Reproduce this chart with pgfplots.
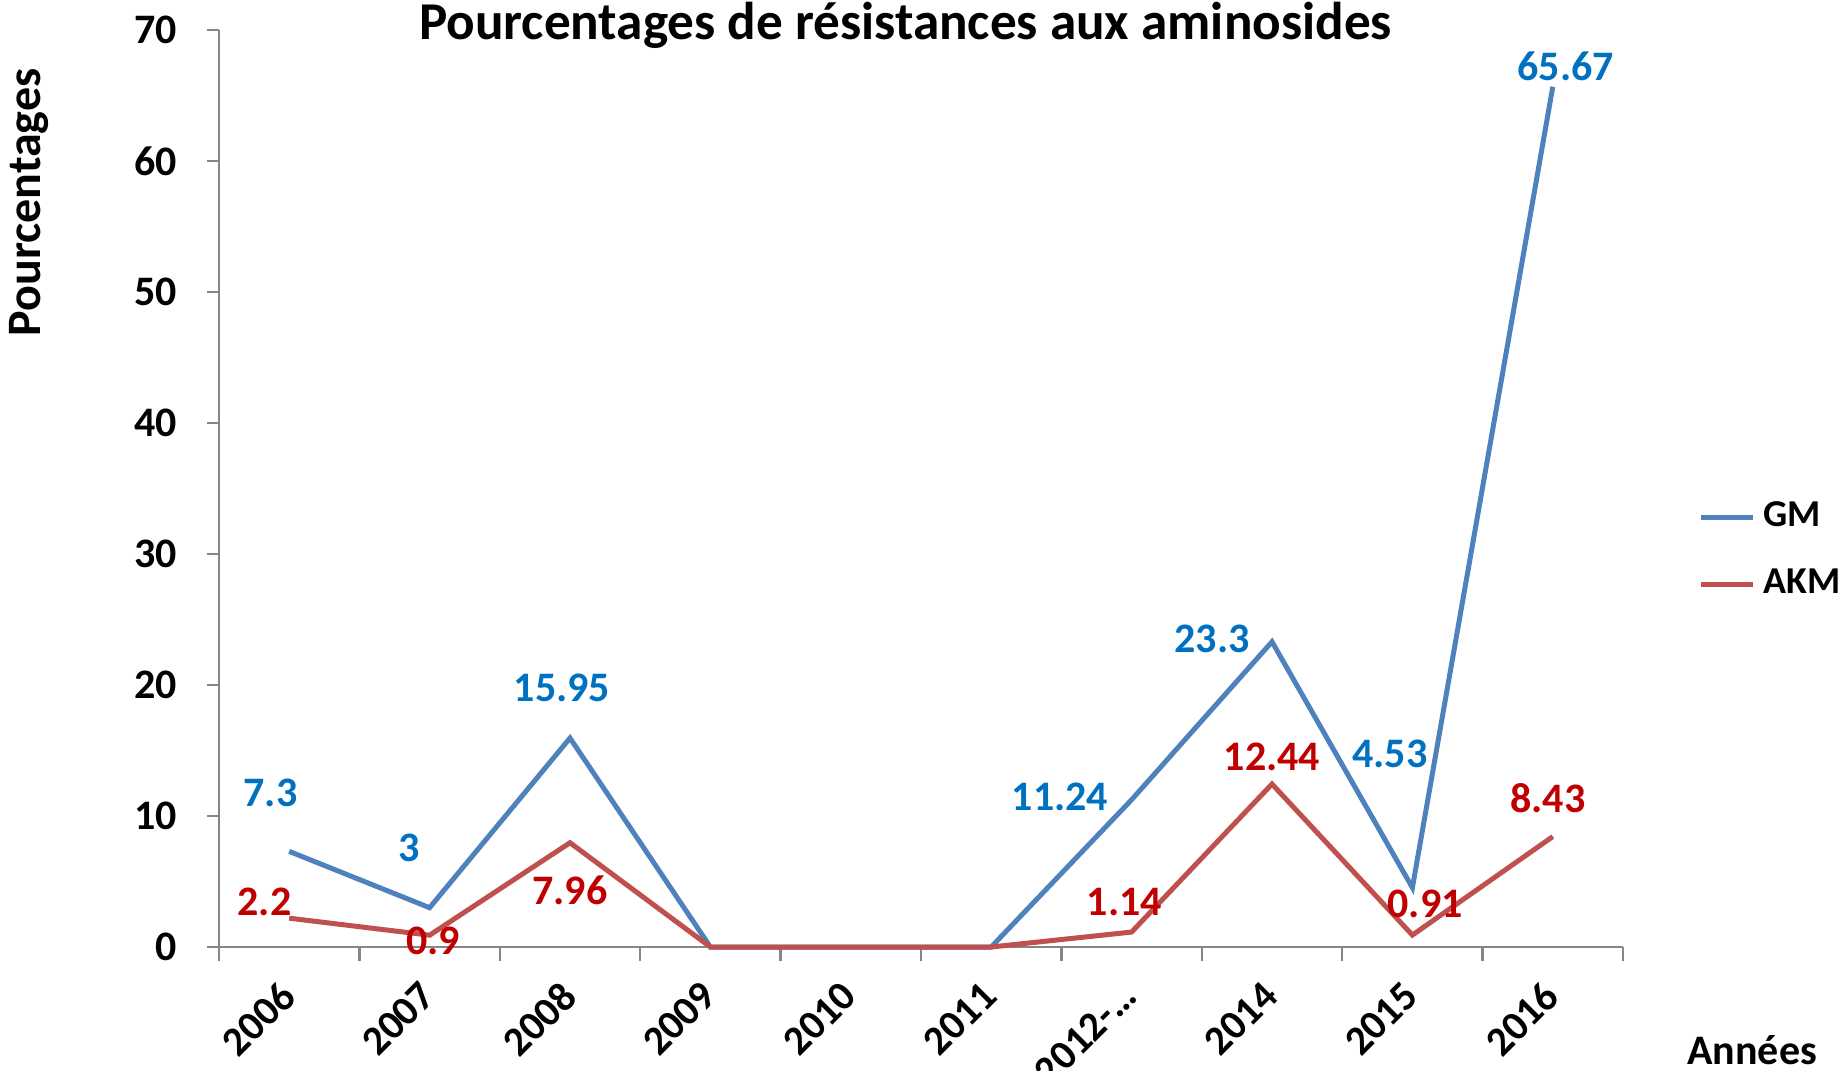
\documentclass[border=0pt]{standalone}
\usepackage{fontspec}
\setmainfont{Carlito}
\usepackage{pgfplots}
\usepackage{pgfplotstable}
\pgfplotsset{compat=1.18}
\definecolor{gmline}{RGB}{79,129,189}
\definecolor{akmline}{RGB}{192,80,77}
\definecolor{gmtext}{RGB}{0,112,192}
\definecolor{akmtext}{RGB}{192,0,0}
\definecolor{axgray}{RGB}{134,134,134}

\pgfplotstableread{
x    gm    akm
0.5  7.3   2.2
1.5  3     0.9
2.5  15.95 7.96
3.5  0     0
4.5  0     0
5.5  0     0
6.5  11.24 1.14
7.5  23.3  12.44
8.5  4.53  0.91
9.5  65.67 8.43
}\aminodata

\begin{document}
\begin{tikzpicture}
\begin{axis}[
    name=ax, scale only axis, width=351pt, height=229.25pt,
    xmin=0, xmax=10, ymin=0, ymax=70,
    axis x line*=bottom, axis y line*=left,
    axis line style={draw=axgray, line width=0.6pt, -},
    tick align=outside,
    ytick={0,10,...,70},
    major tick length=3pt, minor tick length=3.5pt,
    tick style={axgray, line width=0.6pt},
    xtick={0.5,1.5,...,9.5},
    xticklabels={2006,2007,2008,2009,2010,2011,2012-…,2014,2015,2016},
    every major x tick/.append style={draw=none},
    minor xtick={0,1,...,10},
    /pgf/number format/assume math mode=true,
    yticklabel style={font=\fontsize{10.5}{12}\bfseries, black, xshift=-4pt},
    xticklabel style={font=\fontsize{10.3}{12}\bfseries, black, rotate=45, anchor=north east, xshift=-2.1pt, yshift=1.9pt},
    clip=false,
    legend style={draw=none, at={(rel axis cs:1.053,0.432)}, anchor=west, inner sep=0pt,
        font=\fontsize{9.5}{11}\bfseries, row sep=5pt, nodes={inner xsep=2pt}},
    legend cell align=left,
    legend image code/.code={\draw[#1] (0pt,0pt) -- (13pt,0pt);},
]
\addplot[gmline, line width=1.25pt] table[x=x, y=gm] {\aminodata};
\addlegendentry{GM}
\addplot[akmline, line width=1.25pt] table[x=x, y=akm] {\aminodata};
\addlegendentry{AKM}

\begin{scope}[every node/.style={font=\fontsize{10.5}{12}\bfseries, text=gmtext}]
\node at ([xshift=-4.7pt,yshift=14.7pt]axis cs:0.5,7.3) {7.3};
\node at ([xshift=-5pt,yshift=15pt]axis cs:1.5,3) {3};
\node at ([xshift=-2pt,yshift=12.6pt]axis cs:2.5,15.95) {15.95};
\node at ([xshift=-17.9pt,yshift=0.6pt]axis cs:6.5,11.24) {11.24};
\node at ([xshift=-15pt,yshift=0.6pt]axis cs:7.5,23.3) {23.3};
\node at ([xshift=-5.6pt,yshift=33.5pt]axis cs:8.5,4.53) {4.53};
\node at ([xshift=3.2pt,yshift=5pt]axis cs:9.5,65.67) {65.67};
\end{scope}
\begin{scope}[every node/.style={font=\fontsize{10.5}{12}\bfseries, text=akmtext}]
\node at ([xshift=-6.2pt,yshift=4.1pt]axis cs:0.5,2.2) {2.2};
\node at ([xshift=0.9pt,yshift=-1.5pt]axis cs:1.5,0.9) {0.9};
\node at ([xshift=0pt,yshift=-11.8pt]axis cs:2.5,7.96) {7.96};
\node at ([xshift=-1.8pt,yshift=7.6pt]axis cs:6.5,1.14) {1.14};
\node at ([xshift=0pt,yshift=6.8pt]axis cs:7.5,12.44) {12.44};
\node at ([xshift=3.2pt,yshift=7.9pt]axis cs:8.5,0.91) {0.91};
\node at ([xshift=-1.2pt,yshift=9.7pt]axis cs:9.5,8.43) {8.43};
\end{scope}

\node[font=\fontsize{13.3}{15}\bfseries] at (axis description cs:0.489,1.005) {Pourcentages de résistances aux aminosides};
\node[font=\fontsize{12}{14}\bfseries, rotate=90] at (axis description cs:-0.135,0.812) {Pourcentages};
\node[font=\fontsize{10.5}{12}\bfseries] at (axis description cs:1.092,-0.112) {Années};
\end{axis}
\pgfresetboundingbox
\path ([xshift=-54.75pt,yshift=-31pt]ax.south west) rectangle ([xshift=55.25pt,yshift=7.5pt]ax.north east);
\end{tikzpicture}
\end{document}
